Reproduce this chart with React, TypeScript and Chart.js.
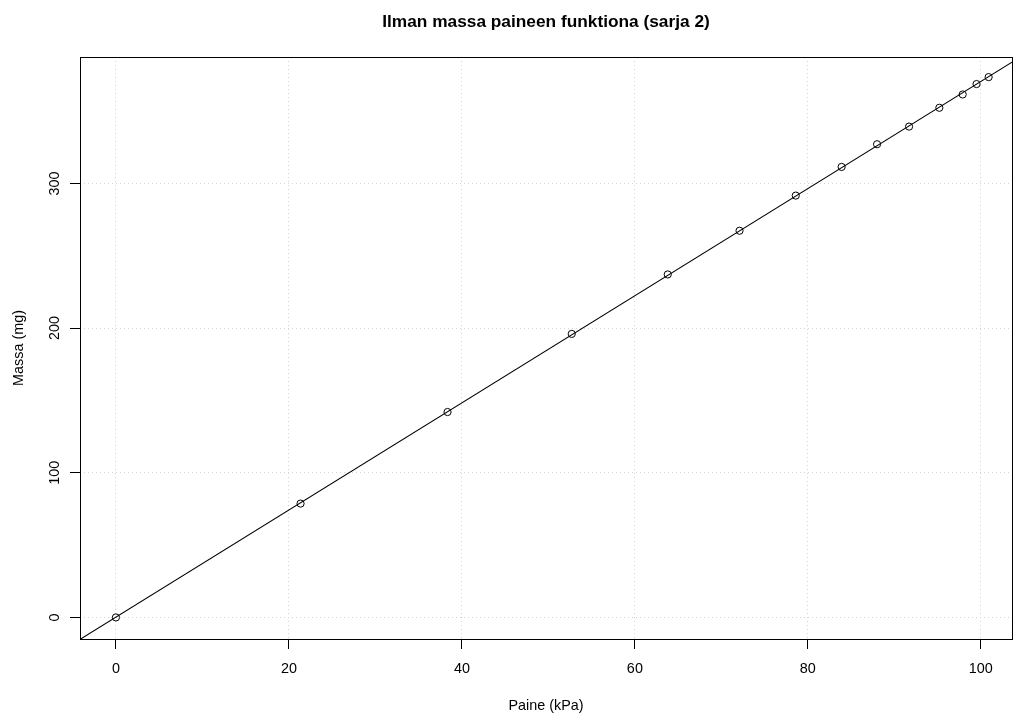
import React, { useEffect, useRef } from "react";
import { Chart, registerables } from "chart.js";

Chart.register(...registerables);

const titleText = "Ilman massa paineen funktiona (sarja 2)";
const xTitle = "Paine (kPa)";
const yTitle = "Massa (mg)";

const pressure = [0, 21.35, 38.34, 52.7, 63.8, 72.1, 78.6, 83.9, 88.0, 91.7, 95.2, 97.9, 99.5, 100.9];
const mass = [0, 78.7, 142.0, 196.0, 237.1, 267.3, 291.6, 311.4, 327.1, 339.3, 352.3, 361.5, 368.7, 373.5];

const xTicks = [0, 20, 40, 60, 80, 100];
const yTicks = [0, 100, 200, 300];
const xLimits = [-4.15, 103.6];
const yLimits = [-14.9, 387.4];

const FONT = '"Liberation Sans", Arial, Helvetica, sans-serif';

function fitLine(xs: number[], ys: number[]) {
  const n = xs.length;
  const mx = xs.reduce((a, b) => a + b, 0) / n;
  const my = ys.reduce((a, b) => a + b, 0) / n;
  let sxy = 0;
  let sxx = 0;
  for (let i = 0; i < n; i++) {
    sxy += (xs[i] - mx) * (ys[i] - my);
    sxx += (xs[i] - mx) * (xs[i] - mx);
  }
  const slope = sxy / sxx;
  return { slope, intercept: my - slope * mx };
}

export default function App() {
  const ref = useRef<HTMLCanvasElement | null>(null);

  useEffect(() => {
    if (!ref.current) return;
    const fit = fitLine(pressure, mass);
    const linePts = xLimits.map((x) => ({ x, y: fit.intercept + fit.slope * x }));

    const textPlugin = {
      id: "rtext",
      afterDraw(chart: any) {
        const ctx = chart.ctx;
        const area = chart.chartArea;
        const xs = chart.scales.x;
        const ys = chart.scales.y;
        ctx.save();
        ctx.strokeStyle = "#000";
        ctx.lineWidth = 1;
        ctx.setLineDash([]);
        ctx.strokeRect(Math.round(area.left) + 0.5, Math.round(area.top) + 0.5, Math.round(area.right - area.left), Math.round(area.bottom - area.top));
        ctx.fillStyle = "#000";
        ctx.font = `bold 17.3px ${FONT}`;
        ctx.textAlign = "center";
        ctx.textBaseline = "alphabetic";
        ctx.fillText(titleText, (area.left + area.right) / 2, 27);
        ctx.font = `14.4px ${FONT}`;
        xs.ticks.forEach((t: any) => {
          ctx.fillText(String(t.value), xs.getPixelForValue(t.value), 672.5);
        });
        ctx.fillText(xTitle, (area.left + area.right) / 2, 709.5);
        ys.ticks.forEach((t: any) => {
          ctx.save();
          ctx.translate(58.5, ys.getPixelForValue(t.value));
          ctx.rotate(-Math.PI / 2);
          ctx.fillText(String(t.value), 0, 0);
          ctx.restore();
        });
        ctx.save();
        ctx.translate(23.3, (area.top + area.bottom) / 2);
        ctx.rotate(-Math.PI / 2);
        ctx.fillText(yTitle, 0, 0);
        ctx.restore();
        ctx.restore();
      },
    };

    const gridOpts = {
      color: "#d3d3d3",
      lineWidth: 1,
      drawTicks: true,
      tickLength: 10,
      tickColor: "#000",
      tickBorderDash: [],
    };

    const chart = new Chart(ref.current, {
      type: "scatter",
      data: {
        datasets: [
          {
            data: pressure.map((x, i) => ({ x, y: mass[i] })),
            showLine: false,
            pointStyle: "circle",
            pointRadius: 3.6,
            pointBorderWidth: 1,
            pointBorderColor: "#000",
            pointBackgroundColor: "rgba(0,0,0,0)",
            borderColor: "#000",
            backgroundColor: "rgba(0,0,0,0)",
          },
          {
            data: linePts,
            showLine: true,
            borderColor: "#000",
            borderWidth: 1.1,
            pointRadius: 0,
            fill: false,
          },
        ],
      },
      options: {
        animation: false,
        responsive: false,
        maintainAspectRatio: false,
        events: [],
        layout: { padding: { top: 57, left: 0, right: 2, bottom: 0 } },
        plugins: {
          legend: { display: false },
          title: { display: false },
          tooltip: { enabled: false },
        },
        scales: {
          x: {
            type: "linear",
            min: xLimits[0],
            max: xLimits[1],
            afterFit: (s: any) => {
              s.height = 78;
            },
            afterBuildTicks: (s: any) => {
              s.ticks = xTicks.map((v) => ({ value: v }));
            },
            ticks: { display: false },
            grid: gridOpts,
            border: { display: false, dash: [1, 3] },
          },
          y: {
            type: "linear",
            min: yLimits[0],
            max: yLimits[1],
            afterFit: (s: any) => {
              s.width = 80;
            },
            afterBuildTicks: (s: any) => {
              s.ticks = yTicks.map((v) => ({ value: v }));
            },
            ticks: { display: false },
            grid: gridOpts,
            border: { display: false, dash: [1, 3] },
          },
        },
      },
      plugins: [textPlugin],
    } as any);
    return () => chart.destroy();
  }, []);

  return (
    <div style={{ position: "absolute", left: 0, top: 0, width: 1017, height: 717, background: "#fff" }}>
      <canvas ref={ref} width={1017} height={717} style={{ display: "block", width: 1017, height: 717 }} />
    </div>
  );
}
